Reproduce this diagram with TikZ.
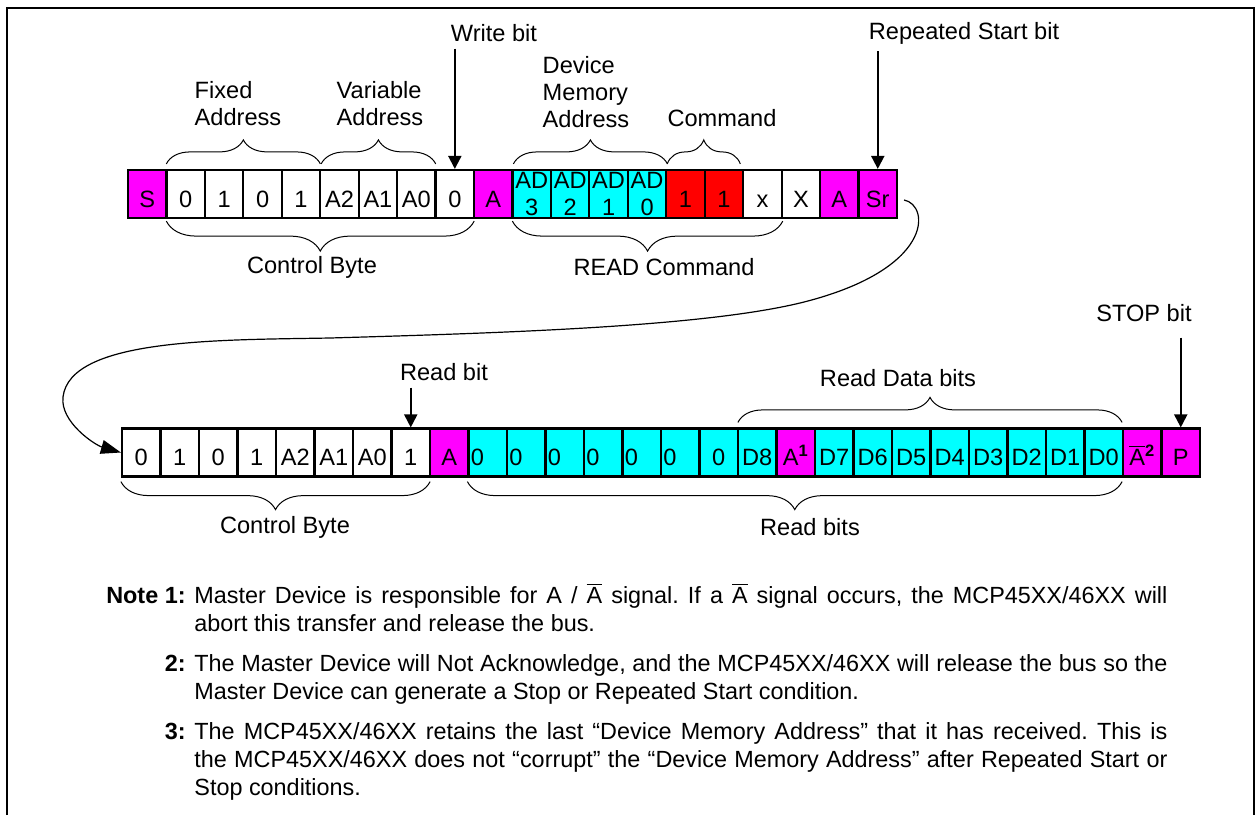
\documentclass[tikz,border=0pt]{standalone}
\usepackage{fontspec}
\setmainfont{Liberation Sans}
\usetikzlibrary{arrows.meta, decorations.pathreplacing}
\frenchspacing

\definecolor{bitmag}{RGB}{255,0,255}
\definecolor{bitcyan}{RGB}{0,255,255}
\definecolor{bitred}{RGB}{255,0,0}

\newcommand{\nack}{$\overline{\mbox{A}}$}
\newcommand{\fullline}[1]{\makebox[486.5pt][s]{#1}}

\begin{document}
\begin{tikzpicture}[
        x=0.5pt, y=-0.5pt,
        every node/.style={font=\fontsize{11.8}{13.5}\selectfont},
        cell/.style={draw, line width=1.1pt, minimum width=19.25pt, minimum height=24pt,
            inner sep=0pt, text width=17pt, align=center},
        bit/.style={cell, text height=13pt, text depth=0pt},
        wh/.style={bit, fill=white},
        mg/.style={bit, fill=bitmag},
        rd/.style={bit, fill=bitred},
        cy/.style={bit, fill=bitcyan},
        cyl/.style={cy, align=left},
        ad/.style={cell, fill=bitcyan},
        pointer/.style={-{Triangle[length=6.5pt, width=6.5pt]}, line width=1pt},
        brc/.style={decorate, decoration={brace, amplitude=#1}, line width=0.5pt},
        mbrc/.style={decorate, decoration={brace, mirror, amplitude=#1}, line width=0.5pt},
        note/.style={anchor=base west, inner sep=0pt, font=\fontsize{11.7}{14}\selectfont},
        notenum/.style={anchor=base east, inner sep=0pt, font=\fontsize{11.7}{14}\selectfont\bfseries}
    ]
        \useasboundingbox (0,0) rectangle (1256,815);
        \draw[line width=1.35pt] (7,815) -- (7,8) -- (1254,8) -- (1254,815);

        % write frame
        \foreach \txt/\st [count=\i] in {S/mg, 0/wh, 1/wh, 0/wh, 1/wh, A2/wh, A1/wh, A0/wh, 0/wh, A/mg,
                {AD\\3}/ad, {AD\\2}/ad, {AD\\1}/ad, {AD\\0}/ad, 1/rd, 1/rd, x/wh, X/wh, A/mg, Sr/mg}
            \node[\st] (t\i) at ({128+(\i-0.5)*38.45}, 194) {\txt};

        % read frame
        \foreach \txt/\st [count=\i] in {0/wh, 1/wh, 0/wh, 1/wh, A2/wh, A1/wh, A0/wh, 1/wh, A/mg,
                0/cyl, 0/cyl, 0/cyl, 0/cyl, 0/cyl, 0/cyl, 0/cy, D8/cy, {A\textsuperscript{\bfseries 1}}/mg,
                D7/cy, D6/cy, D5/cy, D4/cy, D3/cy, D2/cy, D1/cy, D0/cy,
                {\nack\textsuperscript{\bfseries 2}}/mg, P/mg}
            \node[\st] (b\i) at ({122+(\i-0.5)*38.5}, 452.5) {\txt};

        \node (wbit)  at (494, 33) {Write bit};
        \node (rsbit) at (964, 33) {Repeated Start bit};
        \node (rbit)  at (444, 372) {Read bit};
        \node (stop)  at (1144, 313) {STOP bit};

        \draw[pointer] (wbit.south -| t9.north) -- (t9.north);
        \draw[pointer] (rsbit.south -| t20.north) -- (t20.north);
        \draw[pointer] (rbit.south -| b8.north) -- (b8.north);
        \draw[pointer, shorten <=4.5pt] (stop.south -| b28.north) -- (b28.north);

        % braces over the write frame
        \node[align=left] (fixed) at (238, 104) {Fixed\\Address};
        \node[align=left] (var)   at (380, 104) {Variable\\Address};
        \node[align=left] (dev)   at (586, 92)  {Device\\Memory\\Address};
        \node (cmd) at (722, 118) {Command};
        \draw[brc=12pt] ([shift={(1,-5)}]t2.north west) -- ([shift={(-1,-5)}]t5.north east);
        \draw[brc=12pt] ([shift={(2,-5)}]t6.north west) -- ([shift={(-1,-5)}]t8.north east);
        \draw[brc=12pt] ([shift={(2,-5)}]t11.north west) -- ([shift={(0,-5)}]t14.north east);
        \draw[brc=12pt] ([shift={(2,-5)}]t15.north west) -- ([shift={(-4,-5)}]t16.north east);

        % braces under the write frame
        \draw[mbrc=15pt] ([shift={(1,2)}]t2.south west) -- ([shift={(-1,2)}]t9.south east);
        \draw[mbrc=15pt] ([shift={(1,2)}]t11.south west) -- ([shift={(0,2)}]t17.south east);
        \node (ctrlw) at (312, 267) {Control Byte};
        \node (rcmd)  at (664, 267) {READ Command};

        % braces round the read frame
        \draw[brc=12.5pt] ([shift={(1,-5)}]b17.north west) -- ([shift={(-2,-5)}]b26.north east);
        \node (rdata) at (898, 378) {Read Data bits};
        \draw[mbrc=14pt] ([shift={(0,4)}]b1.south west) -- ([shift={(-1,4)}]b8.south east);
        \draw[mbrc=14pt] ([shift={(0,4)}]b10.south west) -- ([shift={(-2,4)}]b26.south east);
        \node (ctrlr) at (285, 527) {Control Byte};
        \node (rbits) at (810, 527) {Read bits};

        % repeated start back to the read frame
        \draw[line width=0.6pt, -{Triangle[length=10pt, width=7pt]}]
            ([shift={(6,6)}]t20.east) .. controls (930,205) and (935,270) .. (800,303)
            .. controls (700,327) and (500,333) .. (330,338)
            .. controls (220,340) and (70,338) .. (63,397)
            .. controls (60,422) and (95,445) .. (b1.west);

        % notes
        \node[notenum] (nn1) at (186, 603) {Note 1:};
        \node[note] (n1a) at (194, 603) {\fullline{Master Device is responsible for A / \nack{} signal. If a \nack{} signal occurs, the MCP45XX/46XX will}};
        \node[note] (n1b) at (194, 631) {abort this transfer and release the bus.};
        \node[notenum] (nn2) at (186, 671) {2:};
        \node[note] (n2a) at (194, 671) {\fullline{The Master Device will Not Acknowledge, and the MCP45XX/46XX will release the bus so the}};
        \node[note] (n2b) at (194, 699) {Master Device can generate a Stop or Repeated Start condition.};
        \node[notenum] (nn3) at (186, 739) {3:};
        \node[note] (n3a) at (194, 739) {\fullline{The MCP45XX/46XX retains the last “Device Memory Address” that it has received. This is}};
        \node[note] (n3b) at (194, 767) {\fullline{the MCP45XX/46XX does not “corrupt” the “Device Memory Address” after Repeated Start or}};
        \node[note] (n3c) at (194, 795) {Stop conditions.};
    \end{tikzpicture}
\end{document}
